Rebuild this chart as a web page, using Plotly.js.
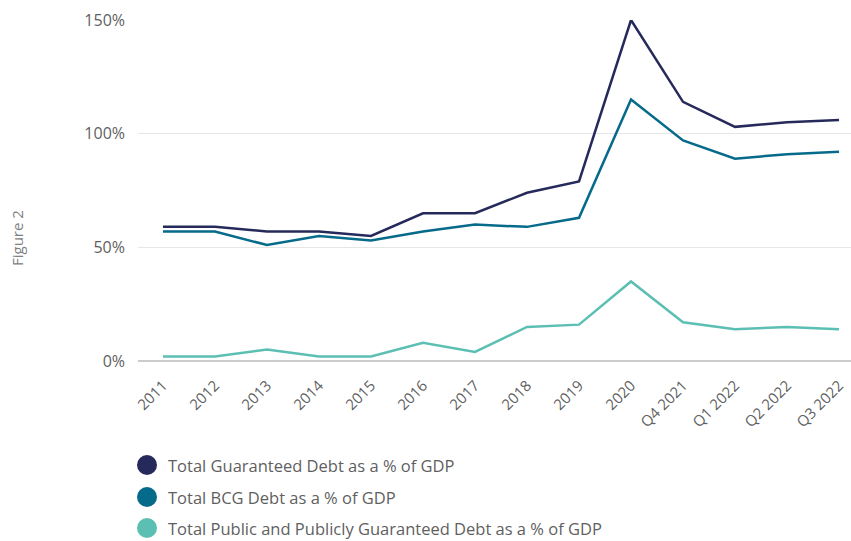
<!DOCTYPE html>
<html>
<head>
<meta charset="utf-8">
<script src="https://cdn.plot.ly/plotly-3.0.1.min.js"></script>
<style>html,body{margin:0;padding:0;background:#fff;}#chart{width:851px;height:541px;}</style>
</head>
<body>
<div id="chart"></div>
<script>
var categories = ["2011","2012","2013","2014","2015","2016","2017","2018","2019","2020","Q4 2021","Q1 2022","Q2 2022","Q3 2022"];
var guaranteedDebt = [59, 59, 57, 57, 55, 65, 65, 74, 79, 150, 114, 103, 105, 106];
var bcgDebt = [57, 57, 51, 55, 53, 57, 60, 59, 63, 115, 97, 89, 91, 92];
var publicDebt = [2, 2, 5, 2, 2, 8, 4, 15, 16, 35, 17, 14, 15, 14];
var seriesNames = ["Total Guaranteed Debt as a % of GDP", "Total BCG Debt as a % of GDP", "Total Public and Publicly Guaranteed Debt as a % of GDP"];
var yTicks = [0, 50, 100, 150];
var yTickLabels = yTicks.map(function(v){ return v + "%"; });

var colors = ["#262a5a", "#066a8a", "#5cbfb3"];
var series = [guaranteedDebt, bcgDebt, publicDebt];
var traces = [];
series.forEach(function(vals, i) {
  traces.push({
    type: "scatter", mode: "lines", x: categories, y: vals, name: seriesNames[i],
    line: {color: colors[i], width: 2.5}, showlegend: false, hoverinfo: "x+y"
  });
});

// plot area in pixels: x 138..851, y 20..361
function px(x) { return (x - 138) / 713; }
function py(y) { return (361 - y) / 341; }
var legendY = [465, 497, 528];
var shapes = [];
var annotations = [{
  text: "Figure 2", textangle: -90, xref: "paper", yref: "paper", xanchor: "center", yanchor: "middle",
  x: -0.17, y: 0.36, showarrow: false, font: {size: 15, color: "#808080"}
}];
seriesNames.forEach(function(name, i) {
  shapes.push({
    type: "circle", xref: "paper", yref: "paper", xsizemode: "pixel", ysizemode: "pixel",
    xanchor: px(147), yanchor: py(legendY[i]), x0: -10, x1: 10, y0: -10, y1: 10,
    fillcolor: colors[i], line: {width: 0}
  });
  annotations.push({
    text: name, xref: "paper", yref: "paper", xanchor: "left", yanchor: "middle",
    x: px(166), y: py(legendY[i]), showarrow: false, font: {size: 16.5, color: "#5f5f5f"}
  });
});

var layout = {
  width: 851, height: 541,
  margin: {l: 138, r: 0, t: 20, b: 180},
  paper_bgcolor: "#fff", plot_bgcolor: "#fff",
  font: {family: "Open Sans, sans-serif", color: "#666666", size: 15},
  xaxis: {
    type: "category", range: [-0.48, 13.23], tickangle: -45, automargin: false,
    showgrid: false, zeroline: false, showline: false, ticks: "",
    tickfont: {size: 15, color: "#5f5f5f"}, ticklabelstandoff: 12
  },
  yaxis: {
    range: [0, 150], tickvals: yTicks, ticktext: yTickLabels, showgrid: true, gridcolor: "#e6e6e6",
    gridwidth: 1, zeroline: true, zerolinecolor: "#cccccc", zerolinewidth: 1.5, automargin: false,
    ticks: "", tickfont: {size: 16, color: "#5f5f5f"}, ticklabelstandoff: 12
  },
  shapes: shapes,
  annotations: annotations,
  showlegend: false
};
Plotly.newPlot("chart", traces, layout, {displayModeBar: false, staticPlot: true});
</script>
</body>
</html>
